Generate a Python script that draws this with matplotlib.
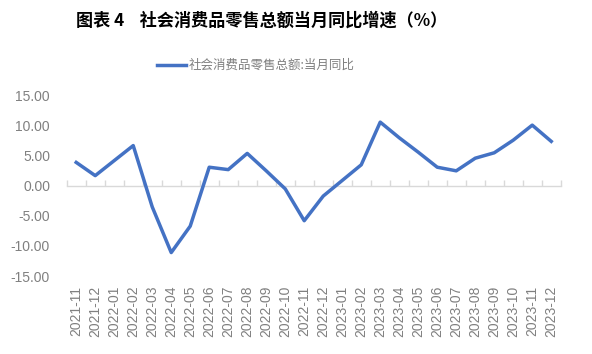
import matplotlib
matplotlib.use("Agg")
import matplotlib.pyplot as plt
from matplotlib.ticker import FixedLocator, FuncFormatter

plt.rcParams["font.family"] = ["Liberation Sans", "Noto Sans CJK SC", "DejaVu Sans"]

months = ["2021-11", "2021-12", "2022-01", "2022-02", "2022-03", "2022-04",
          "2022-05", "2022-06", "2022-07", "2022-08", "2022-09", "2022-10",
          "2022-11", "2022-12", "2023-01", "2023-02", "2023-03", "2023-04",
          "2023-05", "2023-06", "2023-07", "2023-08", "2023-09", "2023-10",
          "2023-11", "2023-12"]
retail_yoy = [3.9, 1.7, 4.2, 6.7, -3.5, -11.1, -6.7, 3.1, 2.7, 5.4, 2.5, -0.5,
              -5.8, -1.7, 0.9, 3.5, 10.6, 8.0, 5.6, 3.1, 2.5, 4.6, 5.5, 7.6,
              10.1, 7.4]
y_ticks = [-15, -10, -5, 0, 5, 10, 15]

title = "图表 4    社会消费品零售总额当月同比增速（%）"
series_name = "社会消费品零售总额:当月同比"

LINE_C = "#4472c4"
GREY = "#808080"
AXIS_C = "#d9d9d9"

fig = plt.figure(figsize=(5.92, 3.54), dpi=100)
ax = fig.add_axes([0.1127, 0.2203, 0.8345, 0.5094])

x = list(range(len(months)))
ax.plot(x, retail_yoy, color=LINE_C, lw=2.5, zorder=3)
ax.set_xlim(-0.5, len(months) - 0.5)
ax.set_ylim(-15, 15)

for s in ax.spines.values():
    s.set_visible(False)

ax.yaxis.set_major_locator(FixedLocator(y_ticks))
ax.yaxis.set_major_formatter(FuncFormatter(lambda v, _: f"{v:.2f}"))
ax.tick_params(axis="y", length=0, pad=12, labelsize=10, labelcolor=GREY)

ax.set_xticks(x)
ax.set_xticklabels(months, rotation=90)
ax.tick_params(axis="x", length=0, pad=7, labelsize=10, labelcolor=GREY)

# zero line with category boundary ticks
zero = ax.secondary_xaxis(0.5)
for s in zero.spines.values():
    s.set_color(AXIS_C)
    s.set_linewidth(1.0)
bounds = [i - 0.5 for i in range(len(months) + 1)]
zero.set_xticks(bounds, labels=[""] * len(bounds))
zero.tick_params(axis="x", length=4, width=1.0, color=AXIS_C)

fig.text(0.128, 0.943, title, ha="left", va="center", fontsize=12.3,
         fontweight="bold", color="#000000",
         family=["Noto Sans CJK SC", "DejaVu Sans"])

leg_y = 0.816
fig.add_artist(plt.Line2D([0.265, 0.314], [leg_y, leg_y], color=LINE_C,
                          lw=2.5, transform=fig.transFigure))
fig.text(0.318, leg_y, series_name, ha="left", va="center", fontsize=9,
         color="#7f7f7f", family=["Noto Sans CJK SC", "DejaVu Sans"])

fig.savefig("out.png", dpi=100)
